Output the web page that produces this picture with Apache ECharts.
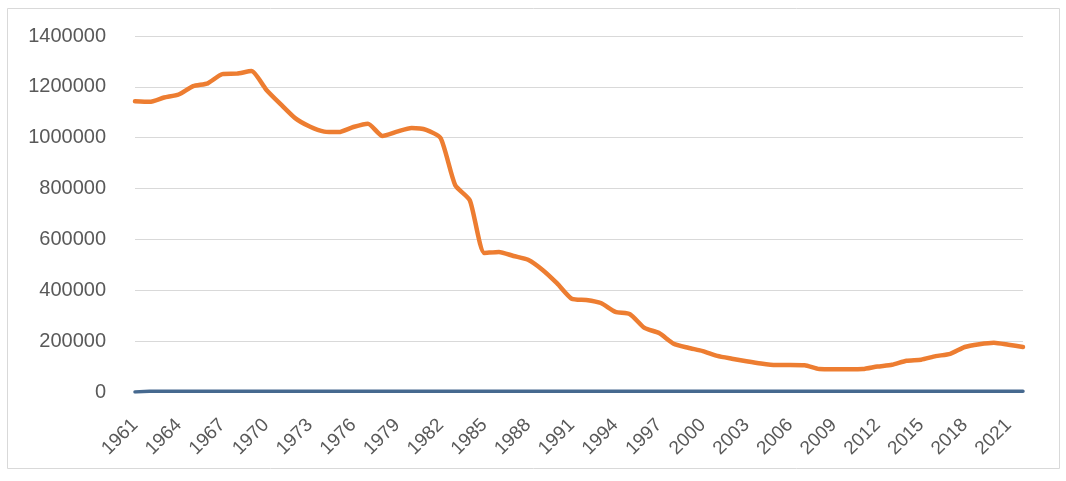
<!DOCTYPE html>
<html>
<head>
<meta charset="utf-8">
<script src="https://cdn.jsdelivr.net/npm/echarts@6/dist/echarts.min.js"></script>
<style>
  html, body { margin: 0; padding: 0; background: #ffffff; }
  #chart { width: 1066px; height: 481px; }
</style>
</head>
<body>
<div id="chart"></div>
<script>
// Years 1961–2022
const years = [];
for (let y = 1961; y <= 2022; y++) years.push(String(y));

// Orange series, one value per year
const orangeValues = [
  1143000, 1141000, 1158000, 1170000, 1203000, 1214000, 1250000, 1252000, 1262000, 1190000,
  1132000, 1077000, 1044000, 1024000, 1022000, 1042000, 1055000, 1007000, 1024000, 1038000,
  1031000, 998000, 813000, 754000, 547000, 551000, 535000, 520000, 480000, 427000,
  367000, 362000, 350000, 315000, 306000, 252000, 232000, 190000, 174000, 161000,
  142000, 131000, 121000, 112000, 106000, 106000, 105000, 90000, 89000, 89000,
  90000, 100000, 107000, 123000, 127000, 141000, 150000, 177000, 188000, 194000,
  186000, 177000
];

// Blue series, close to zero throughout
const blueValues = [
  0, 2500, 2500, 2500, 2500, 2500, 2500, 2500, 2500, 2500,
  2500, 2500, 2500, 2500, 2500, 2500, 2500, 2500, 2500, 2500,
  2500, 2500, 2500, 2500, 2500, 2500, 2500, 2500, 2500, 2500,
  2500, 2500, 2500, 2500, 2500, 2500, 2500, 2500, 2500, 2500,
  2500, 2500, 2500, 2500, 2500, 2500, 2500, 2500, 2500, 2500,
  2500, 2500, 2500, 2500, 2500, 2500, 2500, 2500, 2500, 2500,
  2500, 2500
];

// Value axis ticks
const yTicks = [0, 200000, 400000, 600000, 800000, 1000000, 1200000, 1400000];

const chart = echarts.init(document.getElementById('chart'), null, { renderer: 'canvas' });

chart.setOption({
  backgroundColor: '#ffffff',
  animation: false,
  graphic: [{
    type: 'rect',
    shape: { x: 7.5, y: 8.5, width: 1052, height: 460 },
    style: { fill: 'none', stroke: '#d9d9d9', lineWidth: 1 },
    silent: true
  }],
  grid: { left: 135, right: 43, top: 36, bottom: 89, containLabel: false },
  xAxis: {
    type: 'category',
    data: years,
    boundaryGap: false,
    axisLine: { show: true, lineStyle: { color: '#d9d9d9', width: 1 } },
    axisTick: { show: false },
    axisLabel: {
      interval: 2,
      rotate: 45,
      margin: 30,
      color: '#595959',
      fontFamily: 'Liberation Sans, Arial, sans-serif',
      fontSize: 19
    },
    splitLine: { show: false }
  },
  yAxis: {
    type: 'value',
    min: yTicks[0],
    max: yTicks[yTicks.length - 1],
    interval: yTicks[1] - yTicks[0],
    axisLine: { show: false },
    axisTick: { show: false },
    axisLabel: {
      margin: 29,
      color: '#595959',
      fontFamily: 'Liberation Sans, Arial, sans-serif',
      fontSize: 20,
      formatter: (v) => String(v)
    },
    splitLine: { lineStyle: { color: '#d9d9d9', width: 1 } }
  },
  series: [
    {
      name: 'blue',
      type: 'line',
      data: blueValues,
      showSymbol: false,
      symbol: 'none',
      smooth: 0.2,
      lineStyle: { color: '#46698f', width: 3.5, cap: 'round', join: 'round' },
      z: 3
    },
    {
      name: 'orange',
      type: 'line',
      data: orangeValues,
      showSymbol: false,
      symbol: 'none',
      smooth: 0.2,
      lineStyle: { color: '#ed7d31', width: 4.5, cap: 'round', join: 'round' },
      z: 4
    }
  ]
});
</script>
</body>
</html>
